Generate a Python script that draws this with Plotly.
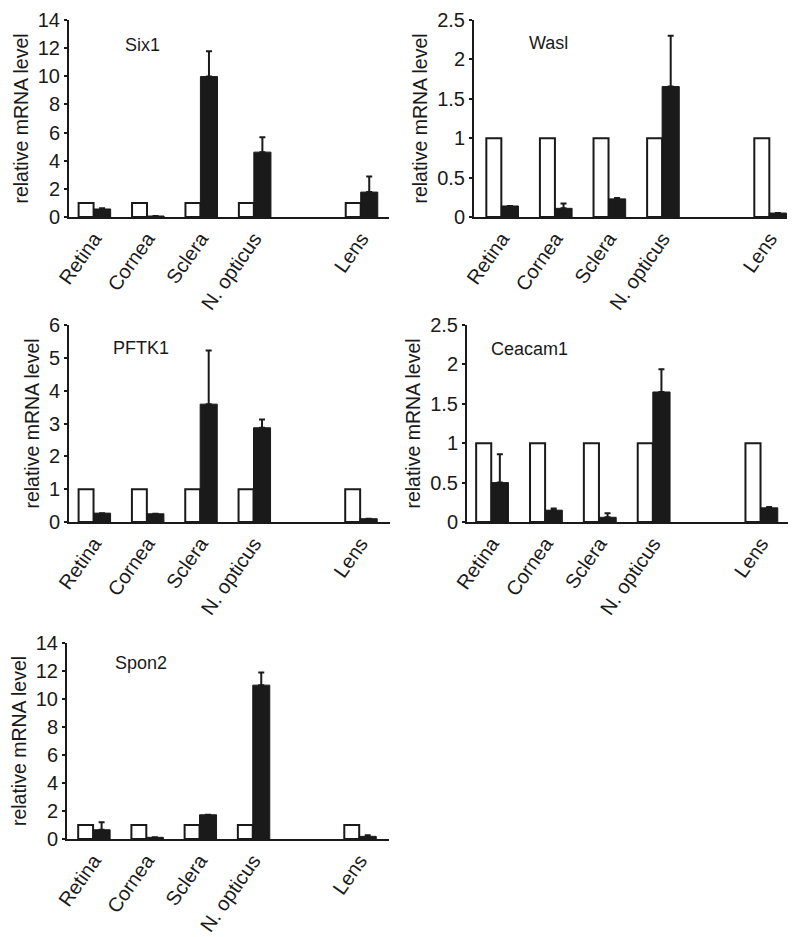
import plotly.graph_objects as go

# ---------------- data ----------------
categories = ["Retina", "Cornea", "Sclera", "N. opticus", "Lens"]
slots = [0, 1, 2, 3, 5]          # Lens sits after an empty slot

genes = ["Six1", "Wasl", "PFTK1", "Ceacam1", "Spon2"]

control = [1, 1, 1, 1, 1]

six1 = [0.57, 0.07, 9.98, 4.61, 1.77]
six1_err = [0.06, 0.0, 1.80, 1.05, 1.10]

wasl = [0.14, 0.11, 0.23, 1.655, 0.05]
wasl_err = [0.0, 0.06, 0.01, 0.645, 0.0]

pftk1 = [0.27, 0.25, 3.59, 2.87, 0.10]
pftk1_err = [0.0, 0.0, 1.63, 0.25, 0.0]

ceacam1 = [0.50, 0.15, 0.06, 1.65, 0.18]
ceacam1_err = [0.36, 0.02, 0.05, 0.29, 0.01]

spon2 = [0.66, 0.12, 1.73, 10.99, 0.19]
spon2_err = [0.53, 0.0, 0.0, 0.90, 0.07]

y_max = [14, 2.5, 6, 2.5, 14]
y_dtick = [2, 0.5, 1, 0.5, 2]

treated = [six1, wasl, pftk1, ceacam1, spon2]
treated_err = [six1_err, wasl_err, pftk1_err, ceacam1_err, spon2_err]

# ---------------- layout geometry (pixels in the page) ----------------
W, H = 800, 937
OFF_X = 4
OFF_Y = 8
panels = [
    # x0, x1, ytop, ybottom, xrange
    (65, 385, 20, 217, [-0.47, 5.52]),
    (470, 783, 20, 217, [-0.52, 5.32]),
    (65, 386, 325, 522, [-0.47, 5.55]),
    (463, 784, 325, 522, [-0.46, 5.50]),
    (63, 385, 643, 839, [-0.50, 5.55]),
]
label_pos = [(138, 45), (544, 43), (137, 348), (525, 349), (137, 663)]


def px(x):
    return (x - OFF_X) / W


def py(y):
    return 1 - (y - OFF_Y) / H


FONT = "Liberation Sans, Arial, sans-serif"
INK = "#1a1a1a"

fig = go.Figure()
layout = dict(
    width=W, height=H, margin=dict(l=0, r=0, t=0, b=0, autoexpand=False),
    paper_bgcolor="white", plot_bgcolor="white",
    showlegend=False, barmode="group", bargap=0.4, bargroupgap=0,
    font=dict(family=FONT, size=18, color=INK),
    annotations=[],
)

for i in range(5):
    n = "" if i == 0 else str(i + 1)
    xa, ya = "x" + n, "y" + n
    fig.add_trace(go.Bar(
        x=slots, y=control, xaxis=xa, yaxis=ya,
        marker=dict(color="white", line=dict(color=INK, width=2)),
        width=0.28,
    ))
    fig.add_trace(go.Bar(
        x=slots, y=treated[i], xaxis=xa, yaxis=ya,
        marker=dict(color=INK, line=dict(color=INK, width=1)),
        width=0.32,
        error_y=dict(type="data", symmetric=False, array=treated_err[i],
                     arrayminus=[0] * 5, color=INK, thickness=2, width=3),
    ))
    x0, x1, yt, yb, xr = panels[i]
    layout["xaxis" + n] = dict(
        domain=[px(x0), px(x1)], anchor=ya, range=xr, automargin=False,
        tickmode="array", tickvals=slots, ticktext=categories,
        tickangle=-55, showline=True, linecolor=INK, linewidth=2,
        ticks="", showgrid=False, zeroline=False,
        tickfont=dict(size=20, family=FONT, color=INK),
    )
    layout["yaxis" + n] = dict(
        domain=[py(yb), py(yt)], anchor=xa, automargin=False,
        range=[0, y_max[i]], dtick=y_dtick[i], tick0=0,
        showline=True, linecolor=INK, linewidth=2,
        ticks="outside", ticklen=3, tickwidth=2, tickcolor=INK,
        showgrid=False, zeroline=False,
        tickfont=dict(size=20, family=FONT, color=INK),
        title=dict(text="relative mRNA level", standoff=4,
                   font=dict(size=19.5, family=FONT, color=INK)),
    )
    lx, ly = label_pos[i]
    layout["annotations"].append(dict(
        text=genes[i], x=px(lx), y=py(ly), xref="paper", yref="paper",
        showarrow=False, xanchor="center", yanchor="middle",
        font=dict(size=18, family=FONT, color=INK),
    ))

fig.update_layout(**layout)
fig.write_html("out.html")
